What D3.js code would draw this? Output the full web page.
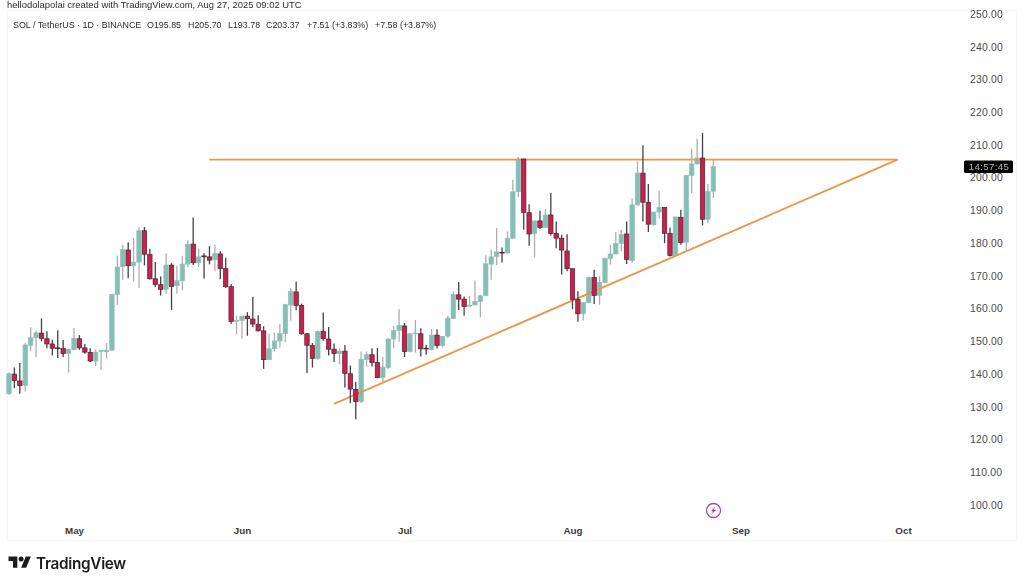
<!DOCTYPE html>
<html><head><meta charset="utf-8">
<script src="https://cdn.jsdelivr.net/npm/d3@7/dist/d3.min.js"></script>
<style>html,body{margin:0;padding:0;background:#fff}svg{display:block;filter:blur(0.3px)}text{font-family:"Liberation Sans",Arial,sans-serif}</style>
</head><body><svg id="c" width="1024" height="576"></svg>
<script>
const candleOpen=[134.0,140.0,137.9,136.5,148.8,151.1,152.5,150.8,149.2,148.0,147.8,146.3,147.5,150.8,148.0,146.6,144.0,147.1,146.8,147.3,164.3,172.8,177.9,173.1,174.2,183.8,176.6,169.1,167.3,165.9,173.3,167.0,168.5,173.6,179.7,174.0,176.1,175.8,174.9,176.7,172.2,166.7,156.2,156.4,157.7,156.8,155.2,153.2,144.4,147.8,150.1,152.4,161.1,165.1,161.0,152.3,148.7,144.7,153.0,150.7,147.6,146.3,147.0,140.1,135.3,131.6,144.5,145.9,143.5,138.9,142.0,150.7,153.3,154.7,146.9,152.3,152.3,147.9,147.5,151.9,148.7,151.6,157.0,164.2,162.9,160.9,161.1,162.2,164.0,173.6,175.9,177.2,177.0,181.5,195.7,205.7,189.3,182.9,186.8,184.8,188.6,183.0,181.5,177.6,172.2,162.8,158.4,161.9,169.5,164.1,168.0,175.3,176.7,179.9,182.8,174.7,191.7,201.4,192.5,185.6,189.5,190.9,183.0,176.2,187.9,180.3,200.7,204.2,206.0,187.3,195.85];
const candleClose=[140.1,138.0,136.5,148.9,151.1,152.6,150.9,149.2,147.9,147.9,146.3,147.6,150.9,148.0,146.7,144.0,146.7,147.2,147.3,164.4,172.7,178.0,173.1,174.2,183.8,176.6,169.1,167.4,165.9,173.3,166.8,168.5,173.6,179.7,174.0,175.8,175.8,174.8,176.8,172.2,166.7,156.1,156.4,157.7,156.9,155.3,153.2,144.4,147.7,150.1,152.4,161.2,165.2,161.0,152.3,148.8,144.8,153.0,150.8,147.6,146.3,147.0,140.2,135.4,131.6,144.5,145.9,143.5,138.9,142.1,150.7,153.3,154.9,146.9,152.3,152.5,147.7,147.8,151.9,148.7,151.5,157.1,164.3,162.9,160.6,161.0,162.2,163.9,173.7,175.8,177.3,177.1,181.5,195.7,205.7,189.4,182.8,186.8,184.8,188.6,183.0,181.5,177.9,172.2,162.8,158.4,161.9,169.5,164.0,168.0,175.4,176.7,179.9,182.6,175.0,191.7,201.4,192.5,185.8,189.5,190.9,183.0,176.2,188.0,180.2,200.7,204.2,206.0,187.3,195.8,203.37];
const candleHigh=[140.5,142.0,143.4,149.5,154.3,153.3,157.0,153.1,150.5,153.4,150.4,147.8,154.1,151.9,149.2,147.9,147.6,147.2,149.5,164.4,176.2,179.5,180.3,181.5,184.9,184.9,178.3,174.2,169.8,176.8,173.9,173.1,176.0,180.9,187.8,178.3,176.9,179.1,179.5,177.5,175.5,167.5,157.9,157.8,158.9,163.6,158.0,154.6,152.3,152.7,155.3,161.5,166.3,168.3,161.5,152.5,149.5,153.3,158.8,154.4,149.3,147.9,148.9,142.6,137.6,146.9,146.9,147.9,148.0,145.2,151.0,154.7,159.8,155.6,152.3,156.5,154.0,148.9,153.8,153.7,151.5,157.8,165.2,168.1,163.7,163.9,168.6,164.2,176.3,178.0,184.6,178.7,183.6,199.4,206.3,205.8,191.9,186.8,189.9,190.4,195.3,186.6,182.6,182.7,172.2,165.3,161.9,169.8,171.9,169.8,175.4,179.5,183.4,184.0,186.6,193.6,205.0,209.9,198.1,189.5,196.0,190.9,184.8,188.0,190.2,200.7,208.8,211.9,213.7,198.1,205.70];
const candleLow=[133.7,135.7,134.0,134.7,147.1,145.1,150.0,147.9,145.7,144.9,145.2,140.5,147.2,147.4,146.2,143.7,142.5,141.3,144.7,147.3,161.1,168.8,169.3,168.3,166.3,173.2,168.9,166.6,164.0,164.5,159.6,164.5,165.6,172.7,173.3,172.7,169.2,173.5,171.4,169.0,166.3,155.4,152.2,150.8,151.7,154.3,153.0,141.6,144.2,147.0,148.1,149.7,156.3,159.5,152.0,140.3,142.0,144.4,150.2,145.7,143.7,143.0,135.9,131.1,126.2,131.1,142.3,142.3,138.7,137.4,141.5,147.9,149.9,145.2,146.7,146.6,145.4,145.9,147.2,147.8,148.2,151.0,156.9,159.6,157.8,160.5,161.0,157.3,164.0,168.8,173.3,174.1,176.8,181.5,194.1,184.1,179.2,175.7,184.3,184.7,182.3,178.4,170.4,171.4,159.8,156.0,156.4,161.7,161.4,161.2,167.8,173.4,176.7,177.5,173.6,173.9,191.5,186.6,183.4,185.4,187.5,180.0,175.9,176.0,179.5,177.5,195.2,204.0,185.4,186.1,193.78];
const firstCandleDate=new Date(Date.UTC(2025,3,19));
const candleDates=candleOpen.map((_,i)=>d3.utcDay.offset(firstCandleDate,i));
const priceTicks=d3.range(100,251,10);
const monthTicks=[new Date(Date.UTC(2025,4,1)),new Date(Date.UTC(2025,5,1)),new Date(Date.UTC(2025,6,1)),new Date(Date.UTC(2025,7,1)),new Date(Date.UTC(2025,8,1)),new Date(Date.UTC(2025,9,1))];
const resistanceDates=[new Date(Date.UTC(2025,4,26)),new Date(Date.UTC(2025,8,30))];
const resistancePrices=[205.5,205.5];
const supportDates=[new Date(Date.UTC(2025,5,18)),new Date(Date.UTC(2025,8,30))];
const supportPrices=[130.9,205.5];
const legendItems=["SOL / TetherUS · 1D · BINANCE","O195.85","H205.70","L193.78","C203.37","+7.51 (+3.83%)","+7.58 (+3.87%)"];
const legendX=[13,147,188,228,266,307,375];

const svg=d3.select("#c");
const x=d3.scaleUtc().domain([monthTicks[0],monthTicks[5]]).range([74,903]);
const y=d3.scaleLinear().domain([100,250]).range([505,14]);

svg.append("rect").attr("x",7.5).attr("y",10.5).attr("width",1009).attr("height",530).attr("fill","#fff").attr("stroke","#f6f6f6");

const yAxis=svg.append("g").attr("transform","translate(965,0)").call(d3.axisRight(y).tickValues(priceTicks).tickFormat(d3.format(".2f")).tickSize(0).tickPadding(5));
yAxis.select(".domain").remove();
yAxis.selectAll("text").attr("fill","#4a4a4a").style("font-size","10.4px").style("letter-spacing","0.2px");

const xAxis=svg.append("g").attr("transform","translate(0,527)").call(d3.axisBottom(x).tickValues(monthTicks).tickFormat(d3.utcFormat("%b")).tickSize(0).tickPadding(0));
xAxis.select(".domain").remove();
xAxis.selectAll("text").attr("fill","#3a3a3a").style("font-size","9.8px").style("font-weight","700");

const isUp=i=>candleClose[i]>=candleOpen[i];
const GREEN="#84bfb4",RED="#c8204f";
function drawCandles(indexes){
  const g=svg.append("g");
  g.selectAll("line").data(indexes).join("line")
   .attr("x1",i=>x(candleDates[i])).attr("x2",i=>x(candleDates[i]))
   .attr("y1",i=>y(candleHigh[i])).attr("y2",i=>y(candleLow[i]))
   .attr("stroke",i=>isUp(i)?"#aab0af":"#444144").attr("stroke-width",1.3);
  g.selectAll("rect").data(indexes).join("rect")
   .attr("x",i=>x(candleDates[i])-2.2)
   .attr("width",4.4)
   .attr("y",i=>y(Math.max(candleOpen[i],candleClose[i])))
   .attr("height",i=>Math.max(0.8,Math.abs(y(candleOpen[i])-y(candleClose[i]))))
   .attr("fill",i=>isUp(i)?GREEN:RED)
   .attr("stroke",i=>isUp(i)?"#90bfb7":"#4d2433").attr("stroke-width",0.7);
}
const idx=d3.range(candleOpen.length);
drawCandles(idx.filter(isUp));

const ln=d3.line().x(d=>x(d[0])).y(d=>y(d[1]));
svg.append("path").attr("d",ln(d3.zip(resistanceDates,resistancePrices))).attr("fill","none").attr("stroke","#ea974a").attr("stroke-width",1.9);
svg.append("path").attr("d",ln(d3.zip(supportDates,supportPrices))).attr("fill","none").attr("stroke","#ea974a").attr("stroke-width",1.9);

drawCandles(idx.filter(i=>!isUp(i)));

svg.append("text").attr("x",7).attr("y",8).attr("fill","#2b2b2b").style("font-size","9.45px").text("hellodolapolai created with TradingView.com, Aug 27, 2025 09:02 UTC");
svg.append("g").selectAll("text").data(legendItems).join("text").attr("x",(d,i)=>legendX[i]).attr("y",27.5).attr("fill","#2b2b2b").style("font-size","8.9px").text(d=>d);

svg.append("rect").attr("x",964).attr("y",160.5).attr("width",49).attr("height",12.5).attr("rx",1.5).attr("fill","#000");
svg.append("text").attr("x",989).attr("y",170).attr("text-anchor","middle").attr("fill","#b8b8b8").style("font-size","9.6px").style("letter-spacing","0.4px").text("14:57:45");

const ic=svg.append("g").attr("transform","translate(713.5,510.5)");
ic.append("circle").attr("r",7).attr("fill","#fff").attr("stroke","#a848a8").attr("stroke-width",1.3);
ic.append("path").attr("d","M1.6,-3.6 L-2.6,0.7 L-0.4,0.7 L-1.6,3.6 L2.6,-0.7 L0.4,-0.7 Z").attr("fill","#9c3a9c");

const lg=svg.append("g").attr("transform","translate(8.5,556.5) scale(0.63)").attr("fill","#1c1c1c");
lg.append("path").attr("d","M14 22H7V11H0V4h14v18zM28 22h-8l7.5-18h8L28 22z").attr("transform","translate(0,-4)");
lg.append("circle").attr("cx",20).attr("cy",4).attr("r",4);
svg.append("text").attr("x",36).attr("y",568.5).attr("fill","#1c1c1c").style("font-family","Inter").style("font-size","15.3px").style("font-weight","600").style("letter-spacing","-0.3px").text("TradingView");
</script></body></html>
